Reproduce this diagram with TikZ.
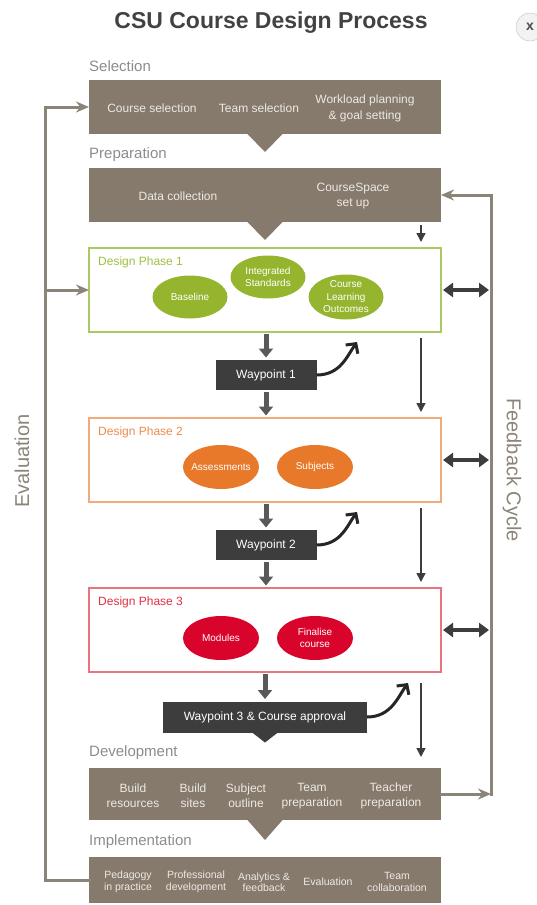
\documentclass[tikz,border=0pt]{standalone}
\usepackage{fontspec}
\setmainfont{Liberation Sans}
\usetikzlibrary{arrows.meta,positioning,calc,shapes.geometric}
\definecolor{boxbrown}{HTML}{857A6C}
\definecolor{boxtext}{HTML}{EEEAE4}
\definecolor{headgray}{HTML}{8C8C8C}
\definecolor{linegray}{HTML}{8B8478}
\definecolor{waydark}{HTML}{3D3D3D}
\definecolor{arrgray}{HTML}{595959}
\definecolor{titlegray}{HTML}{424242}
\definecolor{p1fill}{HTML}{95B52E}
\definecolor{p1line}{HTML}{A9C962}
\definecolor{p1text}{HTML}{9DC03F}
\definecolor{p2fill}{HTML}{E8782A}
\definecolor{p2line}{HTML}{F2AA7C}
\definecolor{p2text}{HTML}{EE8A48}
\definecolor{p3fill}{HTML}{D9042B}
\definecolor{p3line}{HTML}{E9737E}
\definecolor{p3text}{HTML}{E0303F}
\tikzset{
	%Define standard arrow tip
	>={Stealth[length=13pt,width=11pt]},
	%Define style for the brown stage boxes
	stage/.style={
		rectangle,
		fill=boxbrown,
		minimum width=352pt,
		minimum height=54pt,
		inner sep=0pt,
		outer sep=0pt},
	stagetxt/.style={text=boxtext, align=center, inner sep=0pt,
		font=\fontsize{12}{15}\selectfont},
	heading/.style={text=headgray, anchor=west, inner sep=0pt,
		font=\fontsize{15}{17}\selectfont},
	%Define style for the design phases
	phase/.style={
		rectangle,
		draw=#1,
		line width=1.3pt,
		minimum width=352pt,
		minimum height=84pt,
		inner sep=0pt,
		outer sep=0pt},
	phaselbl/.style={text=#1, anchor=north west, inner sep=0pt,
		font=\fontsize{12}{13}\selectfont},
	blob/.style={ellipse, fill=#1, minimum width=75pt, minimum height=43pt, inner sep=0pt},
	blobtxt/.style={text=white, align=center, inner sep=0pt,
		font=\fontsize{10}{12.5}\selectfont},
	wayp/.style={rectangle, fill=waydark, text=white, minimum height=30pt, inner sep=0pt,
		outer sep=0pt, font=\fontsize{12}{13}\selectfont},
	side/.style={text=linegray, font=\fontsize{20}{22}\selectfont},
	% Define arrow styles
	blockpil/.style={
		-{Triangle[length=9pt,width=14pt]},
		line width=5pt,
		draw=arrgray,
		shorten <=2pt,
		shorten >=2.5pt},
	thinpil/.style={-{Triangle[length=9pt,width=9pt]}, line width=1.6pt, draw=waydark},
	dblpil/.style={{Triangle[length=10pt,width=14pt]}-{Triangle[length=10pt,width=14pt]},
		line width=3.5pt, draw=waydark, shorten <=2pt, shorten >=2pt},
	curvepil/.style={-{Straight Barb[length=7pt,width=15pt]}, line width=3pt, draw=black!85},
	fbpil/.style={->, line width=3pt, draw=linegray, line cap=rect}
}
\begin{document}
\begin{tikzpicture}[x=1pt,y=-1pt]
	\useasboundingbox (0,0) rectangle (536,905);
	% title
	\node[font=\bfseries\fontsize{23}{26}\selectfont, text=titlegray] (title) at (271,23) {CSU Course Design Process};
	\node[circle, draw=black!25, fill=black!5, minimum size=28pt, inner sep=0pt,
		font=\bfseries\fontsize{14}{14}\selectfont, text=black!70] (close) at (530,27) {x};
	% node Selection
	\node[heading] (sellbl) at (89,66) {Selection};
	\node[stage] (sel) at (265,107) {};
	\fill[boxbrown] ($(sel.south)+(-18,-0.5)$) -- ($(sel.south)+(0,18)$) -- ($(sel.south)+(18,-0.5)$) -- cycle;
	\node[stagetxt] (s1) at (152,108) {Course selection};
	\node[stagetxt] (s2) at (259,108) {Team selection};
	\node[stagetxt, font=\fontsize{12}{16}\selectfont] (s3) at (365,108) {Workload planning\\\& goal setting};
	% node Preparation
	\node[heading] (preplbl) at (89,155) {Preparation};
	\node[stage] (prep) at (265,195) {};
	\fill[boxbrown] ($(prep.south)+(-18,-0.5)$) -- ($(prep.south)+(0,18)$) -- ($(prep.south)+(18,-0.5)$) -- cycle;
	\node[stagetxt] (p1) at (178,196) {Data collection};
	\node[stagetxt] (p2) at (353,196) {CourseSpace\\set up};
	% node Design Phase 1
	\node[phase=p1line] (ph1) at (265,290) {};
	\node[phaselbl=p1text] (ph1lbl) at ($(ph1.north west)+(9,9)$) {Design Phase 1};
	\node[blob=p1fill] (base) at (190,297) {};
	\node[blobtxt] (baset) at (base) {Baseline};
	\node[blob=p1fill] (integ) at (268,277) {};
	\node[blobtxt] (integt) at (integ) {Integrated\\Standards};
	\node[blob=p1fill, minimum height=45pt] (clo) at (346,297) {};
	\node[blobtxt] (clot) at (clo) {Course\\Learning\\Outcomes};
	% node Waypoint 1
	\node[wayp, minimum width=101pt] (wp1) at (266,375) {Waypoint 1};
	\coordinate (tip1) at (357,342);
	% node Design Phase 2
	\node[phase=p2line] (ph2) at (265,460) {};
	\node[phaselbl=p2text] (ph2lbl) at ($(ph2.north west)+(9,9)$) {Design Phase 2};
	\node[blob=p2fill, minimum width=76pt, minimum height=44pt] (assess) at (221,467) {};
	\node[blobtxt] (assesst) at (assess) {Assessments};
	\node[blob=p2fill, minimum width=76pt, minimum height=44pt] (subj) at (315,467) {};
	\node[blobtxt] (subjt) at (subj) {Subjects};
	% node Waypoint 2
	\node[wayp, minimum width=101pt] (wp2) at (266,545) {Waypoint 2};
	\coordinate (tip2) at (357,512);
	% node Design Phase 3
	\node[phase=p3line] (ph3) at (265,630) {};
	\node[phaselbl=p3text] (ph3lbl) at ($(ph3.north west)+(9,9)$) {Design Phase 3};
	\node[blob=p3fill, minimum width=76pt, minimum height=44pt] (mod) at (221,638) {};
	\node[blobtxt] (modt) at (mod) {Modules};
	\node[blob=p3fill, minimum width=76pt, minimum height=44pt] (fin) at (315,638) {};
	\node[blobtxt] (fint) at (fin) {Finalise\\course};
	% node Waypoint 3
	\node[wayp, minimum width=204pt, minimum height=31pt] (wp3) at (265,717) {Waypoint 3 \& Course approval};
	\fill[waydark] ($(wp3.south)+(-13.5,-0.5)$) -- ($(wp3.south)+(0,10)$) -- ($(wp3.south)+(13.5,-0.5)$) -- cycle;
	\coordinate (tip3) at (408,683);
	% node Development
	\node[heading] (devlbl) at (89,753) {Development};
	\node[stage, minimum height=52pt] (dev) at (265,794) {};
	\fill[boxbrown] ($(dev.south)+(-18,-0.5)$) -- ($(dev.south)+(0,20)$) -- ($(dev.south)+(18,-0.5)$) -- cycle;
	\node[stagetxt] (d1) at (133,796) {Build\\resources};
	\node[stagetxt] (d2) at (193,796) {Build\\sites};
	\node[stagetxt] (d3) at (246,796) {Subject\\outline};
	\node[stagetxt] (d4) at (312,796) {Team\\preparation};
	\node[stagetxt] (d5) at (391,796) {Teacher\\preparation};
	% node Implementation
	\node[heading] (impllbl) at (89,842) {Implementation};
	\node[stage, minimum height=46pt] (impl) at (265,880) {};
	\node[stagetxt, font=\fontsize{10.5}{11.5}\selectfont] (i1) at (128,882) {Pedagogy\\in practice};
	\node[stagetxt, font=\fontsize{10.5}{11.5}\selectfont] (i2) at (196,882) {Professional\\development};
	\node[stagetxt, font=\fontsize{10.5}{11.5}\selectfont] (i3) at (264,882) {Analytics \&\\feedback};
	\node[stagetxt, font=\fontsize{10.5}{11.5}\selectfont] (i4) at (328,882) {Evaluation};
	\node[stagetxt, font=\fontsize{10.5}{11.5}\selectfont] (i5) at (397,882) {Team\\collaboration};
	% side labels
	\node[side, rotate=90] (evlbl) at (22,461) {Evaluation};
	\node[side, rotate=-90] (fblbl) at (512,470) {Feedback Cycle};
	\coordinate (ev) at (45,0);
	\coordinate (fbtop) at (491,195);
	% block arrows between phases and waypoints
	\draw[blockpil] (ph1.south -| wp1) -- (wp1.north);
	\draw[blockpil] (wp1.south) -- (wp1.south |- ph2.north);
	\draw[blockpil] (ph2.south -| wp2) -- (wp2.north);
	\draw[blockpil] (wp2.south) -- (wp2.south |- ph3.north);
	\draw[blockpil] (ph3.south -| wp3) -- (wp3.north);
	% curved arrows back up
	\draw[curvepil] (wp1.east) .. controls +(24,0) and +(-10,14) .. (tip1);
	\draw[curvepil] (wp2.east) .. controls +(24,0) and +(-10,14) .. (tip2);
	\draw[curvepil] (wp3.east) .. controls +(24,0) and +(-10,14) .. (tip3);
	% thin arrows on the right
	\draw[thinpil] ($(prep.south east)+(-20,3)$) -- ($(ph1.north east)+(-20,-6)$);
	\draw[thinpil] ($(ph1.south east)+(-20,6)$) -- ($(ph2.north east)+(-20,-6)$);
	\draw[thinpil] ($(ph2.south east)+(-20,6)$) -- ($(ph3.north east)+(-20,-6)$);
	\draw[thinpil] ($(ph3.south east)+(-20,11)$) -- ($(dev.north east)+(-20,-11)$);
	% feedback cycle
	\draw[dblpil] (ph1.east) -- (ph1.east -| fbtop);
	\draw[dblpil] (ph2.east) -- (ph2.east -| fbtop);
	\draw[dblpil] (ph3.east) -- (ph3.east -| fbtop);
	\draw[fbpil] (dev.east) -- (dev.east -| fbtop);
	\draw[fbpil] (dev.east -| fbtop) |- (prep.east);
	% evaluation
	\draw[fbpil] (impl.west) -| (ev |- sel.west) -- (sel.west);
	\draw[fbpil] (ev |- ph1.west) -- (ph1.west);
\end{tikzpicture}
\end{document}
